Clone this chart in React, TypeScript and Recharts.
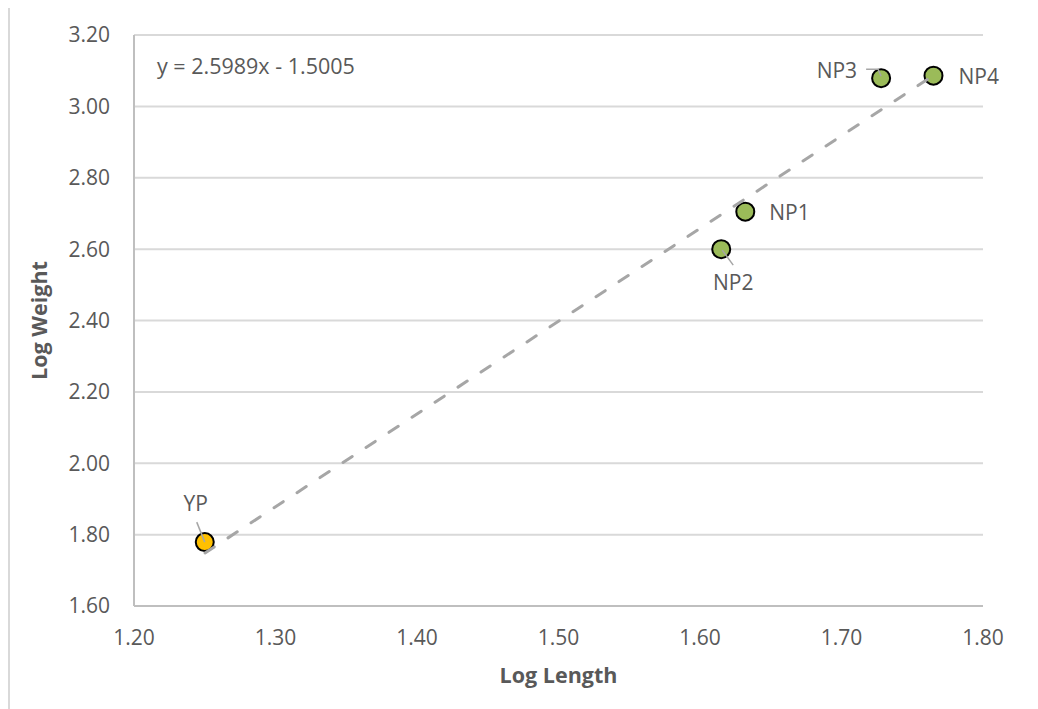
import React from 'react';
import {
  ComposedChart,
  Scatter,
  XAxis,
  YAxis,
  CartesianGrid,
  Label,
  ReferenceDot,
} from 'recharts';

// ---- data ----
const names = ['YP', 'NP2', 'NP1', 'NP3', 'NP4'];
const logLength = [1.25, 1.615, 1.632, 1.728, 1.765];
const logWeight = [1.779, 2.6, 2.705, 3.079, 3.086];
const groups = ['YP', 'NP', 'NP', 'NP', 'NP'];

const xTicks = [1.2, 1.3, 1.4, 1.5, 1.6, 1.7, 1.8];
const yTicks = [1.6, 1.8, 2.0, 2.2, 2.4, 2.6, 2.8, 3.0, 3.2];

const slope = 2.5989;
const intercept = -1.5005;
const trendX = [1.2502, 1.7649];
const equationText = 'y = 2.5989x - 1.5005';

const xTitle = 'Log Length';
const yTitle = 'Log Weight';

// ---- built tables ----
const points = names.map((n, i) => ({
  name: n,
  group: groups[i],
  x: logLength[i],
  y: logWeight[i],
}));
const trendData = trendX.map((x) => ({ x, y: slope * x + intercept }));

// ---- style ----
const FONT = '"Open Sans", sans-serif';
const TEXT = '#595959';
const GRID = '#D9D9D9';
const AXIS = '#BFBFBF';
const groupFill: Record<string, string> = { YP: '#FFC000', NP: '#9BBB59' };

type Placement = {
  dx: number;
  dy: number;
  anchor: 'start' | 'middle' | 'end';
  leader?: number[][];
};
const labelPlacement: Record<string, Placement> = {
  YP: { dx: -9, dy: -38, anchor: 'middle', leader: [[-8, -20], [0, 0]] },
  NP2: { dx: 12, dy: 34, anchor: 'middle', leader: [[1, 1], [12, 16]] },
  NP1: { dx: 24, dy: 1, anchor: 'start' },
  NP3: { dx: -24, dy: -7, anchor: 'end', leader: [[-15, -9], [-3, -9], [0, -2]] },
  NP4: { dx: 25, dy: 1, anchor: 'start' },
};

const PointShape = (props: any) => {
  const { cx, cy, payload } = props;
  if (cx == null || cy == null) return <g />;
  const p = labelPlacement[payload.name];
  return (
    <g>
      <circle cx={cx} cy={cy} r={9} fill={groupFill[payload.group]} stroke="#000" strokeWidth={2} />
      {p && p.leader && (
        <polyline
          points={p.leader.map(([a, b]) => `${cx + a},${cy + b}`).join(' ')}
          fill="none"
          stroke="#A6A6A6"
          strokeWidth={1.5}
        />
      )}
      {p && (
        <text
          x={cx + p.dx}
          y={cy + p.dy + 7}
          textAnchor={p.anchor}
          fill={TEXT}
          fontSize={21}
          fontFamily={FONT}
        >
          {payload.name}
        </text>
      )}
    </g>
  );
};

const EmptyShape = () => <g />;

const EquationLabel = (props: any) => {
  const vb = props.viewBox || {};
  return (
    <text x={(vb.x ?? 0) + 23} y={(vb.y ?? 0) + 39} fill={TEXT} fontSize={21.5} fontFamily={FONT}>
      {equationText}
    </text>
  );
};

export default function App() {
  return (
    <div
      style={{
        marginTop: -2,
        width: 1030,
        height: 703,
        borderTop: `2px solid ${GRID}`,
        borderLeft: `2px solid ${GRID}`,
        boxSizing: 'border-box',
        background: '#fff',
      }}
    >
      <ComposedChart
        width={1028}
        height={699}
        margin={{ top: 27, right: 55, bottom: 21, left: 0 }}
        style={{ fontFamily: FONT }}
      >
        <CartesianGrid horizontal vertical={false} stroke={GRID} strokeWidth={2} />
        <XAxis
          type="number"
          dataKey="x"
          domain={[1.2, 1.8]}
          ticks={xTicks}
          tickFormatter={(v: number) => v.toFixed(2)}
          height={80}
          tickSize={0}
          tickMargin={24}
          axisLine={{ stroke: AXIS, strokeWidth: 2 }}
          tickLine={false}
          tick={{ fill: TEXT, fontSize: 21, fontFamily: FONT }}
        >
          <Label
            value={xTitle}
            position="insideBottom"
            offset={3}
            style={{ fill: TEXT, fontSize: 21.5, fontWeight: 700, fontFamily: FONT }}
          />
        </XAxis>
        <YAxis
          type="number"
          dataKey="y"
          domain={[1.6, 3.2]}
          ticks={yTicks}
          tickFormatter={(v: number) => v.toFixed(2)}
          width={124}
          tickSize={0}
          tickMargin={24}
          axisLine={{ stroke: AXIS, strokeWidth: 2 }}
          tickLine={false}
          tick={{ fill: TEXT, fontSize: 21, fontFamily: FONT }}
        >
          <Label
            value={yTitle}
            angle={-90}
            position="insideLeft"
            offset={29}
            style={{ fill: TEXT, fontSize: 21.5, fontWeight: 700, fontFamily: FONT, textAnchor: 'middle' }}
          />
        </YAxis>
        <Scatter data={points} dataKey="y" shape={PointShape} isAnimationActive={false} />
        <Scatter
          data={trendData}
          dataKey="y"
          line={{ stroke: '#A6A6A6', strokeWidth: 3, strokeDasharray: '11 16.5', strokeLinecap: 'round' }}
          shape={EmptyShape}
          isAnimationActive={false}
        />
        <ReferenceDot x={1.2} y={3.2} r={0} stroke="none" fill="none" ifOverflow="visible" label={<EquationLabel />} />
      </ComposedChart>
    </div>
  );
}
